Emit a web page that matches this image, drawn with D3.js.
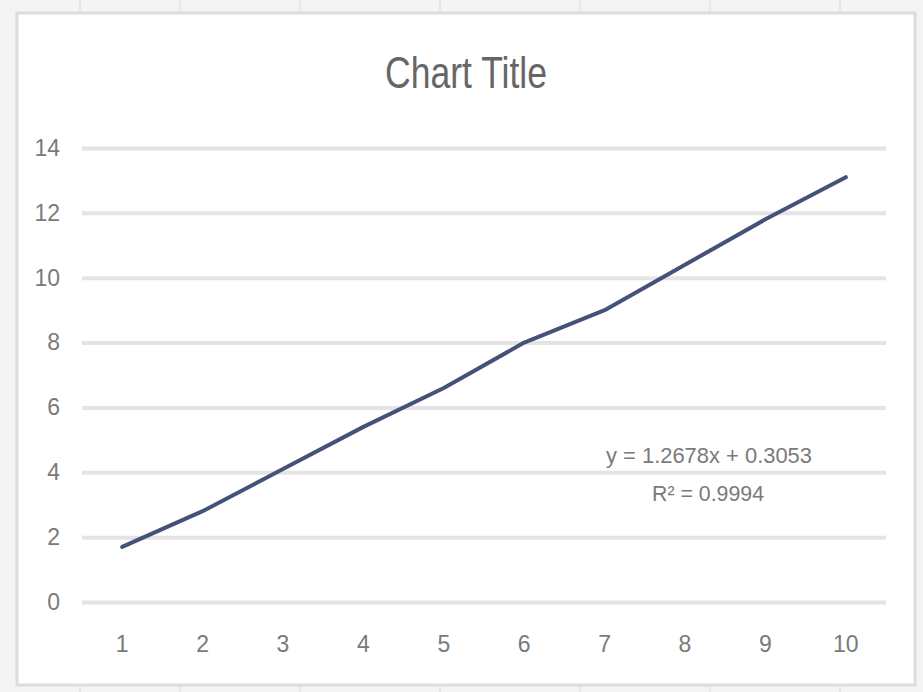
<!DOCTYPE html>
<html>
<head>
<meta charset="utf-8">
<script src="https://cdn.jsdelivr.net/npm/d3@7"></script>
<style>
  html, body { margin: 0; padding: 0; background: #f4f4f4; }
  svg { display: block; }
</style>
</head>
<body>
<svg id="chart" width="923" height="692"></svg>
<script>
// ---- data ----
const categories = [1, 2, 3, 4, 5, 6, 7, 8, 9, 10];
const values = [1.7, 2.8, 4.1, 5.4, 6.6, 8.0, 9.0, 10.4, 11.8, 13.1];
const yTicks = [0, 2, 4, 6, 8, 10, 12, 14];
const chartTitle = "Chart Title";
const trendEquation = "y = 1.2678x + 0.3053";
const trendR2 = "R² = 0.9994";

const svg = d3.select("#chart");
const W = 923, H = 692;
const font = "'Liberation Sans Narrow', 'Arial Narrow', 'Liberation Sans', sans-serif";

// outer spreadsheet background with faint cell grid
svg.append("rect").attr("width", W).attr("height", H).attr("fill", "#f4f4f4");
const cellX = [80, 180, 300, 440, 580, 710, 840];
svg.selectAll("line.cell").data(cellX).enter().append("line")
  .attr("x1", d => d).attr("x2", d => d).attr("y1", 0).attr("y2", H)
  .attr("stroke", "#e8e8e8").attr("stroke-width", 2);

// chart area
svg.append("rect")
  .attr("x", 17).attr("y", 13).attr("width", 898).attr("height", 672)
  .attr("fill", "#ffffff").attr("stroke", "#dcdcdc").attr("stroke-width", 3);

const margin = { left: 82, right: 886, top: 148, bottom: 602 };

const x = d3.scaleBand().domain(categories).range([margin.left, margin.right]);
const y = d3.scaleLinear().domain([0, 14]).range([margin.bottom, margin.top]);

// gridlines
const yAxis = d3.axisLeft(y).tickValues(yTicks).tickSize(-(margin.right - margin.left)).tickPadding(22);
const gy = svg.append("g").attr("transform", `translate(${margin.left},0)`).call(yAxis);
gy.select(".domain").remove();
gy.selectAll(".tick line").attr("stroke", "#e4e4e4").attr("stroke-width", 4);
gy.selectAll(".tick text")
  .attr("fill", "#7a7a7a").attr("font-family", font).attr("font-size", 23);

// x axis labels
const xAxis = d3.axisBottom(x).tickSize(0).tickPadding(34);
const gx = svg.append("g").attr("transform", `translate(0,${margin.bottom})`).call(xAxis);
gx.select(".domain").remove();
gx.selectAll(".tick text")
  .attr("fill", "#7a7a7a").attr("font-family", font).attr("font-size", 23);

// line
const line = d3.line()
  .x((d, i) => x(categories[i]) + x.bandwidth() / 2)
  .y(d => y(d));
svg.append("path").datum(values)
  .attr("d", line)
  .attr("fill", "none")
  .attr("stroke", "#44527a")
  .attr("stroke-width", 4)
  .attr("stroke-linejoin", "round")
  .attr("stroke-linecap", "round");

// title
svg.append("text")
  .attr("x", 466).attr("y", 88)
  .attr("text-anchor", "middle")
  .attr("font-family", font).attr("font-size", 44)
  .attr("fill", "#666666")
  .attr("textLength", 162).attr("lengthAdjust", "spacingAndGlyphs")
  .text(chartTitle);

// trendline label
svg.append("text")
  .attr("x", 709).attr("y", 463)
  .attr("text-anchor", "middle")
  .attr("font-family", font).attr("font-size", 22)
  .attr("fill", "#7a7a7a")
  .attr("textLength", 206).attr("lengthAdjust", "spacingAndGlyphs")
  .text(trendEquation);
svg.append("text")
  .attr("x", 708).attr("y", 501)
  .attr("text-anchor", "middle")
  .attr("font-family", font).attr("font-size", 22)
  .attr("fill", "#7a7a7a")
  .attr("textLength", 112).attr("lengthAdjust", "spacingAndGlyphs")
  .text(trendR2);
</script>
</body>
</html>
